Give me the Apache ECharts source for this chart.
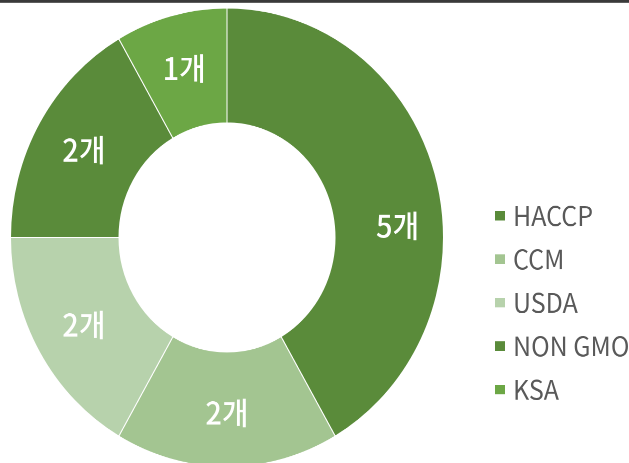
<!DOCTYPE html>
<html>
<head>
<meta charset="utf-8">
<script src="https://cdn.jsdelivr.net/npm/echarts@6/dist/echarts.min.js"></script>
<style>
  html, body { margin: 0; padding: 0; background: #fff; overflow: hidden; }
  #wrap { width: 629px; height: 463px; position: relative; overflow: hidden; }
  /* the reference is slightly stretched vertically */
  #chart { width: 629px; height: 437px; transform: scaleY(1.06); transform-origin: 0 0; }
</style>
</head>
<body>
<div id="wrap"><div id="chart"></div></div>
<script>
const categories = ['HACCP', 'CCM', 'USDA', 'NON GMO', 'KSA']
const counts = [5, 2, 2, 2, 1]
const colors = ['#5a8b3a', '#a3c591', '#b7d2ac', '#5a8b3a', '#6ca745']

const chart = echarts.init(document.getElementById('chart'), null, { devicePixelRatio: 2 })

const option = {
  backgroundColor: '#fff',
  animation: false,
  graphic: [
    // dark rule along the top edge
    { type: 'rect', left: 0, top: 0, shape: { width: 629, height: 2.5 }, style: { fill: '#3a3a3a' } },
  ],
  legend: {
    orient: 'vertical',
    left: 488,
    top: 186,
    icon: 'rect',
    itemWidth: 12,
    itemHeight: 11,
    itemGap: 16,
    data: categories,
    textStyle: {
      fontFamily: 'Noto Sans CJK KR',
      fontSize: 25,
      color: '#595959',
      padding: [0, 0, 0, 2],
    },
  },
  series: [
    {
      type: 'pie',
      center: [227, 224],
      radius: [108, 216.5],
      startAngle: 90,
      clockwise: true,
      avoidLabelOverlap: false,
      itemStyle: { borderColor: '#fff', borderWidth: 1 },
      label: {
        show: true,
        position: 'inside',
        formatter: '{c}개',
        color: '#fff',
        fontSize: 29,
        fontWeight: 500,
        fontFamily: 'Noto Sans CJK KR',
      },
      labelLine: { show: false },
      emphasis: { disabled: true },
      labelLayout: (params) => (params.dataIndex === 0 ? { dx: 11, dy: 32 } : {}),
      data: categories.map((name, i) => ({
        name,
        value: counts[i],
        itemStyle: { color: colors[i] },
      })),
    },
  ],
}

chart.setOption(option)
</script>
</body>
</html>
